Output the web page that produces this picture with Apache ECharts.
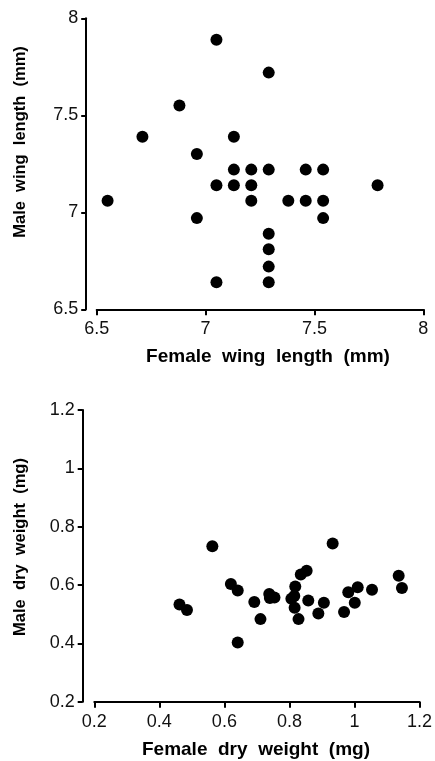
<!DOCTYPE html>
<html>
<head>
<meta charset="utf-8">
<script src="https://cdn.jsdelivr.net/npm/echarts@6/dist/echarts.min.js"></script>
<style>
html,body{margin:0;padding:0;background:#fff;}
#chart{width:435px;height:761px;}
</style>
</head>
<body>
<div id="chart"></div>
<script>
// Top panel: wing length (mm)
const femaleWing = [7.05, 7.29, 6.88, 6.71, 7.13, 6.96, 7.13, 7.21, 7.29, 7.46, 7.54, 7.05, 7.13, 7.21, 7.79, 6.55, 7.21, 7.38, 7.46, 7.54, 6.96, 7.54, 7.29, 7.29, 7.29, 7.05, 7.29];
const maleWing   = [7.89, 7.72, 7.55, 7.39, 7.39, 7.30, 7.22, 7.22, 7.22, 7.22, 7.22, 7.14, 7.14, 7.14, 7.14, 7.06, 7.06, 7.06, 7.06, 7.06, 6.97, 6.97, 6.89, 6.81, 6.72, 6.64, 6.64];
// Bottom panel: dry weight (mg)
const femaleDry = [0.563, 0.933, 0.835, 0.853, 1.136, 0.620, 0.641, 0.462, 0.485, 0.692, 0.738, 0.740, 0.754, 0.711, 0.641, 0.806, 0.818, 0.815, 0.816, 0.828, 0.858, 0.889, 0.906, 0.968, 0.981, 1.001, 1.010, 1.054, 1.146];
const maleDry   = [0.733, 0.742, 0.636, 0.649, 0.632, 0.603, 0.581, 0.533, 0.514, 0.542, 0.569, 0.555, 0.557, 0.483, 0.403, 0.553, 0.595, 0.562, 0.522, 0.483, 0.547, 0.502, 0.539, 0.507, 0.575, 0.539, 0.592, 0.584, 0.590];

const wingTicks = [6.5, 7, 7.5, 8];
const dryTicks = [0.2, 0.4, 0.6, 0.8, 1, 1.2];

const titles = {
  topX: 'Female  wing  length  (mm)',
  topY: 'Male  wing  length  (mm)',
  botX: 'Female  dry  weight  (mg)',
  botY: 'Male  dry  weight  (mg)'
};

const FONT = '"Liberation Sans", Arial, Helvetica, sans-serif';
const INK = '#000';

function pairs(xs, ys){ return xs.map((x,i)=>[x, ys[i]]); }

function xAxisCfg(grid, ticks){
  return {
    type:'value', gridIndex:grid, min:ticks[0], max:ticks[ticks.length-1],
    interval: ticks[1]-ticks[0],
    axisLine:{show:true, lineStyle:{color:INK, width:2}},
    axisTick:{show:true, inside:false, length:6, lineStyle:{color:INK, width:2}},
    axisLabel:{color:'#111', fontSize:18, fontFamily:FONT, margin:11,
      formatter:v=>String(+v.toFixed(2))},
    splitLine:{show:false}
  };
}
function yAxisCfg(grid, ticks, offset){
  return {
    type:'value', gridIndex:grid, min:ticks[0], max:ticks[ticks.length-1],
    interval: ticks[1]-ticks[0], offset:offset,
    axisLine:{show:true, lineStyle:{color:INK, width:2}},
    axisTick:{show:true, inside:false, length:5, lineStyle:{color:INK, width:2}},
    axisLabel:{color:'#111', fontSize:18, fontFamily:FONT, margin:8,
      formatter:v=>String(+v.toFixed(2))},
    splitLine:{show:false}
  };
}

const chart = echarts.init(document.getElementById('chart'), null, {renderer:'canvas'});
chart.setOption({
  animation:false,
  backgroundColor:'#fff',
  grid:[
    {left:96.7, right:11.7, top:18.3, bottom:451.7},
    {left:94.3, right:14.2, top:409.9, bottom:59.3}
  ],
  xAxis:[ xAxisCfg(0, wingTicks), xAxisCfg(1, dryTicks) ],
  yAxis:[ yAxisCfg(0, wingTicks, 10.5), yAxisCfg(1, dryTicks, 11.6) ],
  series:[
    {type:'scatter', xAxisIndex:0, yAxisIndex:0, data:pairs(femaleWing, maleWing),
     symbolSize:12, itemStyle:{color:INK, opacity:1}},
    {type:'scatter', xAxisIndex:1, yAxisIndex:1, data:pairs(femaleDry, maleDry),
     symbolSize:12, itemStyle:{color:INK, opacity:1}}
  ],
  graphic:[
    {type:'text', x:268, y:357, style:{text:titles.topX, font:'bold 19px '+FONT, fill:INK, textAlign:'center', textVerticalAlign:'middle'}},
    {type:'text', x:20, y:142, rotation:Math.PI/2, style:{text:titles.topY, font:'bold 16.5px '+FONT, fill:INK, textAlign:'center', textVerticalAlign:'middle'}},
    {type:'text', x:256, y:750, style:{text:titles.botX, font:'bold 19px '+FONT, fill:INK, textAlign:'center', textVerticalAlign:'middle'}},
    {type:'text', x:20, y:547, rotation:Math.PI/2, style:{text:titles.botY, font:'bold 16.5px '+FONT, fill:INK, textAlign:'center', textVerticalAlign:'middle'}}
  ]
});
</script>
</body>
</html>
